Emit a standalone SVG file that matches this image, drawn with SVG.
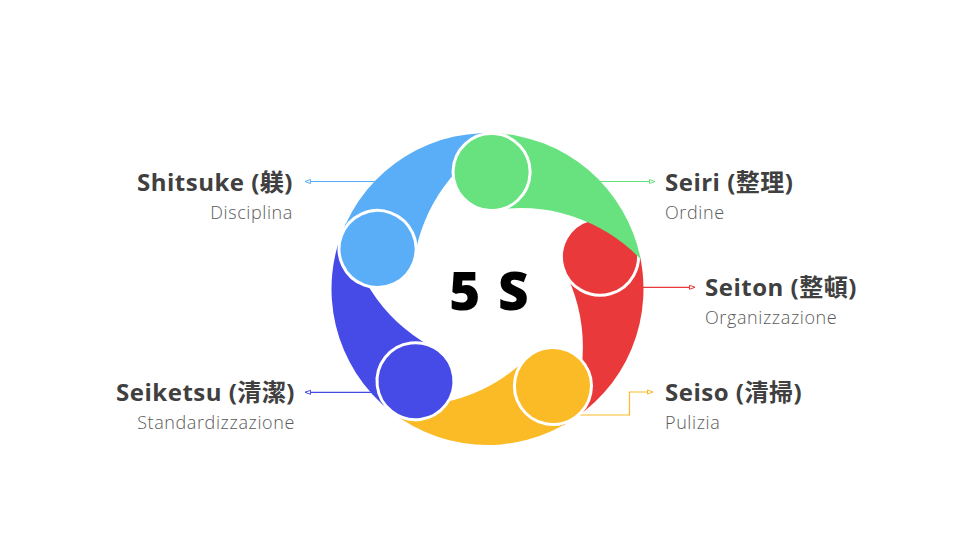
<svg xmlns="http://www.w3.org/2000/svg" width="960" height="540" viewBox="0 0 960 540">
<style>
.title{font-family:"Open Sans","Noto Sans CJK JP",sans-serif;font-weight:700;font-size:24px;fill:#404040;letter-spacing:0.5px}
.sub{font-family:"Open Sans","Noto Sans",sans-serif;font-weight:300;font-size:18px;fill:#5a5a5a;letter-spacing:0.6px}
.head{stroke:#ffffff;stroke-width:3}
.conn{fill:none;stroke-width:1.2}
.center{font-family:"Open Sans","Liberation Sans",sans-serif;font-weight:800;font-size:53px;fill:#000;letter-spacing:2px}
</style>
<defs>
<path id="band" d="M0,-156 A156,156 0 0 1 152,-35.1 A167,167 0 0 0 0,-78.4 Z"/>
<marker id="mLB" markerWidth="8" markerHeight="6" refX="6.5" refY="3" orient="auto" markerUnits="userSpaceOnUse"><path d="M1,1 L6.5,3 L1,5 Z" fill="#fff" stroke="#5aaef7" stroke-width="1"/></marker>
<marker id="mG" markerWidth="8" markerHeight="6" refX="6.5" refY="3" orient="auto" markerUnits="userSpaceOnUse"><path d="M1,1 L6.5,3 L1,5 Z" fill="#fff" stroke="#67e27f" stroke-width="1"/></marker>
<marker id="mR" markerWidth="8" markerHeight="6" refX="6.5" refY="3" orient="auto" markerUnits="userSpaceOnUse"><path d="M1,1 L6.5,3 L1,5 Z" fill="#fff" stroke="#e9393a" stroke-width="1"/></marker>
<marker id="mO" markerWidth="8" markerHeight="6" refX="6.5" refY="3" orient="auto" markerUnits="userSpaceOnUse"><path d="M1,1 L6.5,3 L1,5 Z" fill="#fff" stroke="#fbbb27" stroke-width="1"/></marker>
<marker id="mB" markerWidth="8" markerHeight="6" refX="6.5" refY="3" orient="auto" markerUnits="userSpaceOnUse"><path d="M1,1 L6.5,3 L1,5 Z" fill="#fff" stroke="#464ae6" stroke-width="1"/></marker>
</defs>
<rect width="960" height="540" fill="#ffffff"/>
<g id="connectors">
<path class="conn" stroke="#5aaef7" d="M390,181.5 H305" marker-end="url(#mLB)"/>
<path class="conn" stroke="#67e27f" d="M590,181.5 H655" marker-end="url(#mG)"/>
<path class="conn" stroke="#e9393a" d="M630,287.3 H695" marker-end="url(#mR)"/>
<path class="conn" stroke="#fbbb27" d="M570,415 H629.5 V392 H653" marker-end="url(#mO)"/>
<path class="conn" stroke="#464ae6" d="M385,392.3 H305" marker-end="url(#mB)"/>
</g>
<g transform="translate(487.5,289)">
<g id="seiton-shape" transform="rotate(74)"><use href="#band" fill="#e9393a"/><circle class="head" cx="0" cy="-117" r="38.5" fill="#e9393a"/></g>
<g id="seiso-shape" transform="rotate(146)"><use href="#band" fill="#fbbb27"/><circle class="head" cx="0" cy="-117" r="38.5" fill="#fbbb27"/></g>
<g id="seiketsu-shape" transform="rotate(218)"><use href="#band" fill="#464ae6"/><circle class="head" cx="0" cy="-117" r="38.5" fill="#464ae6"/></g>
<g id="shitsuke-shape" transform="rotate(290)"><use href="#band" fill="#5aaef7"/><circle class="head" cx="0" cy="-117" r="38.5" fill="#5aaef7"/></g>
<g id="seiri-shape" transform="rotate(2)"><use href="#band" fill="#67e27f"/><circle class="head" cx="0" cy="-117" r="38.5" fill="#67e27f"/></g>
</g>
<g id="center-label"><text class="center" x="490" y="310" text-anchor="middle">5 S</text></g>
<g id="shitsuke"><text class="title" x="293" y="191" text-anchor="end">Shitsuke (躾)</text><text class="sub" x="293" y="219" text-anchor="end">Disciplina</text></g>
<g id="seiri"><text class="title" x="665" y="191">Seiri (整理)</text><text class="sub" x="665" y="219">Ordine</text></g>
<g id="seiton"><text class="title" x="705" y="296">Seiton (整頓)</text><text class="sub" x="705" y="324">Organizzazione</text></g>
<g id="seiso"><text class="title" x="665" y="401">Seiso (清掃)</text><text class="sub" x="665" y="429">Pulizia</text></g>
<g id="seiketsu"><text class="title" x="295" y="401" text-anchor="end">Seiketsu (清潔)</text><text class="sub" x="295" y="429" text-anchor="end">Standardizzazione</text></g>
</svg>
